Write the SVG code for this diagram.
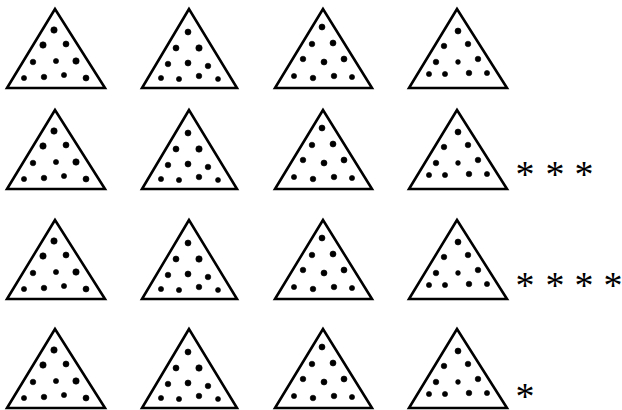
<svg xmlns="http://www.w3.org/2000/svg" width="622" height="410" viewBox="0 0 622 410">
<style>
.tri{fill:#fff;stroke:#000;stroke-width:2.6;stroke-linejoin:miter}
.dot{fill:#000;stroke:#000;stroke-width:0.6}
.ast{font-family:"Liberation Serif","Times New Roman",serif;font-size:38px;fill:#000;text-anchor:middle}
</style>
<defs>
<g id="c1">
<polygon class="tri" points="55,9 7,88 105,88"/>
<g class="dot">
<circle cx="54" cy="30" r="3.2"/><circle cx="43" cy="45" r="3.2"/><circle cx="66" cy="44" r="3"/>
<circle cx="33" cy="62" r="2.8"/><circle cx="56" cy="61" r="2.6"/><circle cx="76" cy="61" r="3.2"/>
<circle cx="24" cy="78" r="2.6"/><circle cx="44" cy="77" r="2.8"/><circle cx="64" cy="75" r="2.6"/><circle cx="86" cy="78" r="3"/>
</g>
</g>
<g id="c2">
<polygon class="tri" points="189,9 142,88 237,88"/>
<g class="dot">
<circle cx="188" cy="32" r="3"/><circle cx="176" cy="48" r="3"/><circle cx="199" cy="48" r="3.2"/>
<circle cx="168" cy="64" r="2.8"/><circle cx="188" cy="63" r="3"/><circle cx="208" cy="66" r="2.8"/>
<circle cx="161" cy="78" r="2.6"/><circle cx="179" cy="79" r="2.6"/><circle cx="199" cy="76" r="2.8"/><circle cx="218" cy="79" r="2.5"/>
</g>
</g>
<g id="c3">
<polygon class="tri" points="323,9 275,88 372,88"/>
<g class="dot">
<circle cx="322" cy="27" r="3"/><circle cx="312" cy="44" r="2.8"/><circle cx="333" cy="43" r="3"/>
<circle cx="303" cy="59" r="2.8"/><circle cx="324" cy="62" r="3"/><circle cx="344" cy="59" r="3"/>
<circle cx="294" cy="76" r="2.6"/><circle cx="313" cy="78" r="2.8"/><circle cx="334" cy="76" r="2.8"/><circle cx="352" cy="77" r="2.6"/>
</g>
</g>
<g id="c4">
<polygon class="tri" points="457,9 409,88 507,88"/>
<g class="dot">
<circle cx="458" cy="31" r="3"/><circle cx="444" cy="46" r="2.8"/><circle cx="468" cy="44" r="2.8"/>
<circle cx="436" cy="62" r="2.8"/><circle cx="458" cy="62" r="2.4"/><circle cx="478" cy="59" r="2.8"/>
<circle cx="429" cy="74" r="2.6"/><circle cx="445" cy="74" r="2.6"/><circle cx="469" cy="73" r="2.8"/><circle cx="487" cy="73" r="2.6"/>
</g>
</g>
</defs>
<g id="row1">
<g id="t11"><use href="#c1"/></g>
<g id="t12"><use href="#c2"/></g>
<g id="t13"><use href="#c3"/></g>
<g id="t14"><use href="#c4"/></g>
</g>
<g id="row2" transform="translate(0,101)">
<g id="t21"><use href="#c1"/></g>
<g id="t22"><use href="#c2"/></g>
<g id="t23"><use href="#c3"/></g>
<g id="t24"><use href="#c4"/></g>
</g>
<g id="row3" transform="translate(0,211)">
<g id="t31"><use href="#c1"/></g>
<g id="t32"><use href="#c2"/></g>
<g id="t33"><use href="#c3"/></g>
<g id="t34"><use href="#c4"/></g>
</g>
<g id="row4" transform="translate(0,320)">
<g id="t41"><use href="#c1"/></g>
<g id="t42"><use href="#c2"/></g>
<g id="t43"><use href="#c3"/></g>
<g id="t44"><use href="#c4"/></g>
</g>
<g id="stars">
<text class="ast" x="525 555 584" y="187">***</text>
<text class="ast" x="525 555 584 613" y="298">****</text>
<text class="ast" x="525" y="409">*</text>
</g>
</svg>
